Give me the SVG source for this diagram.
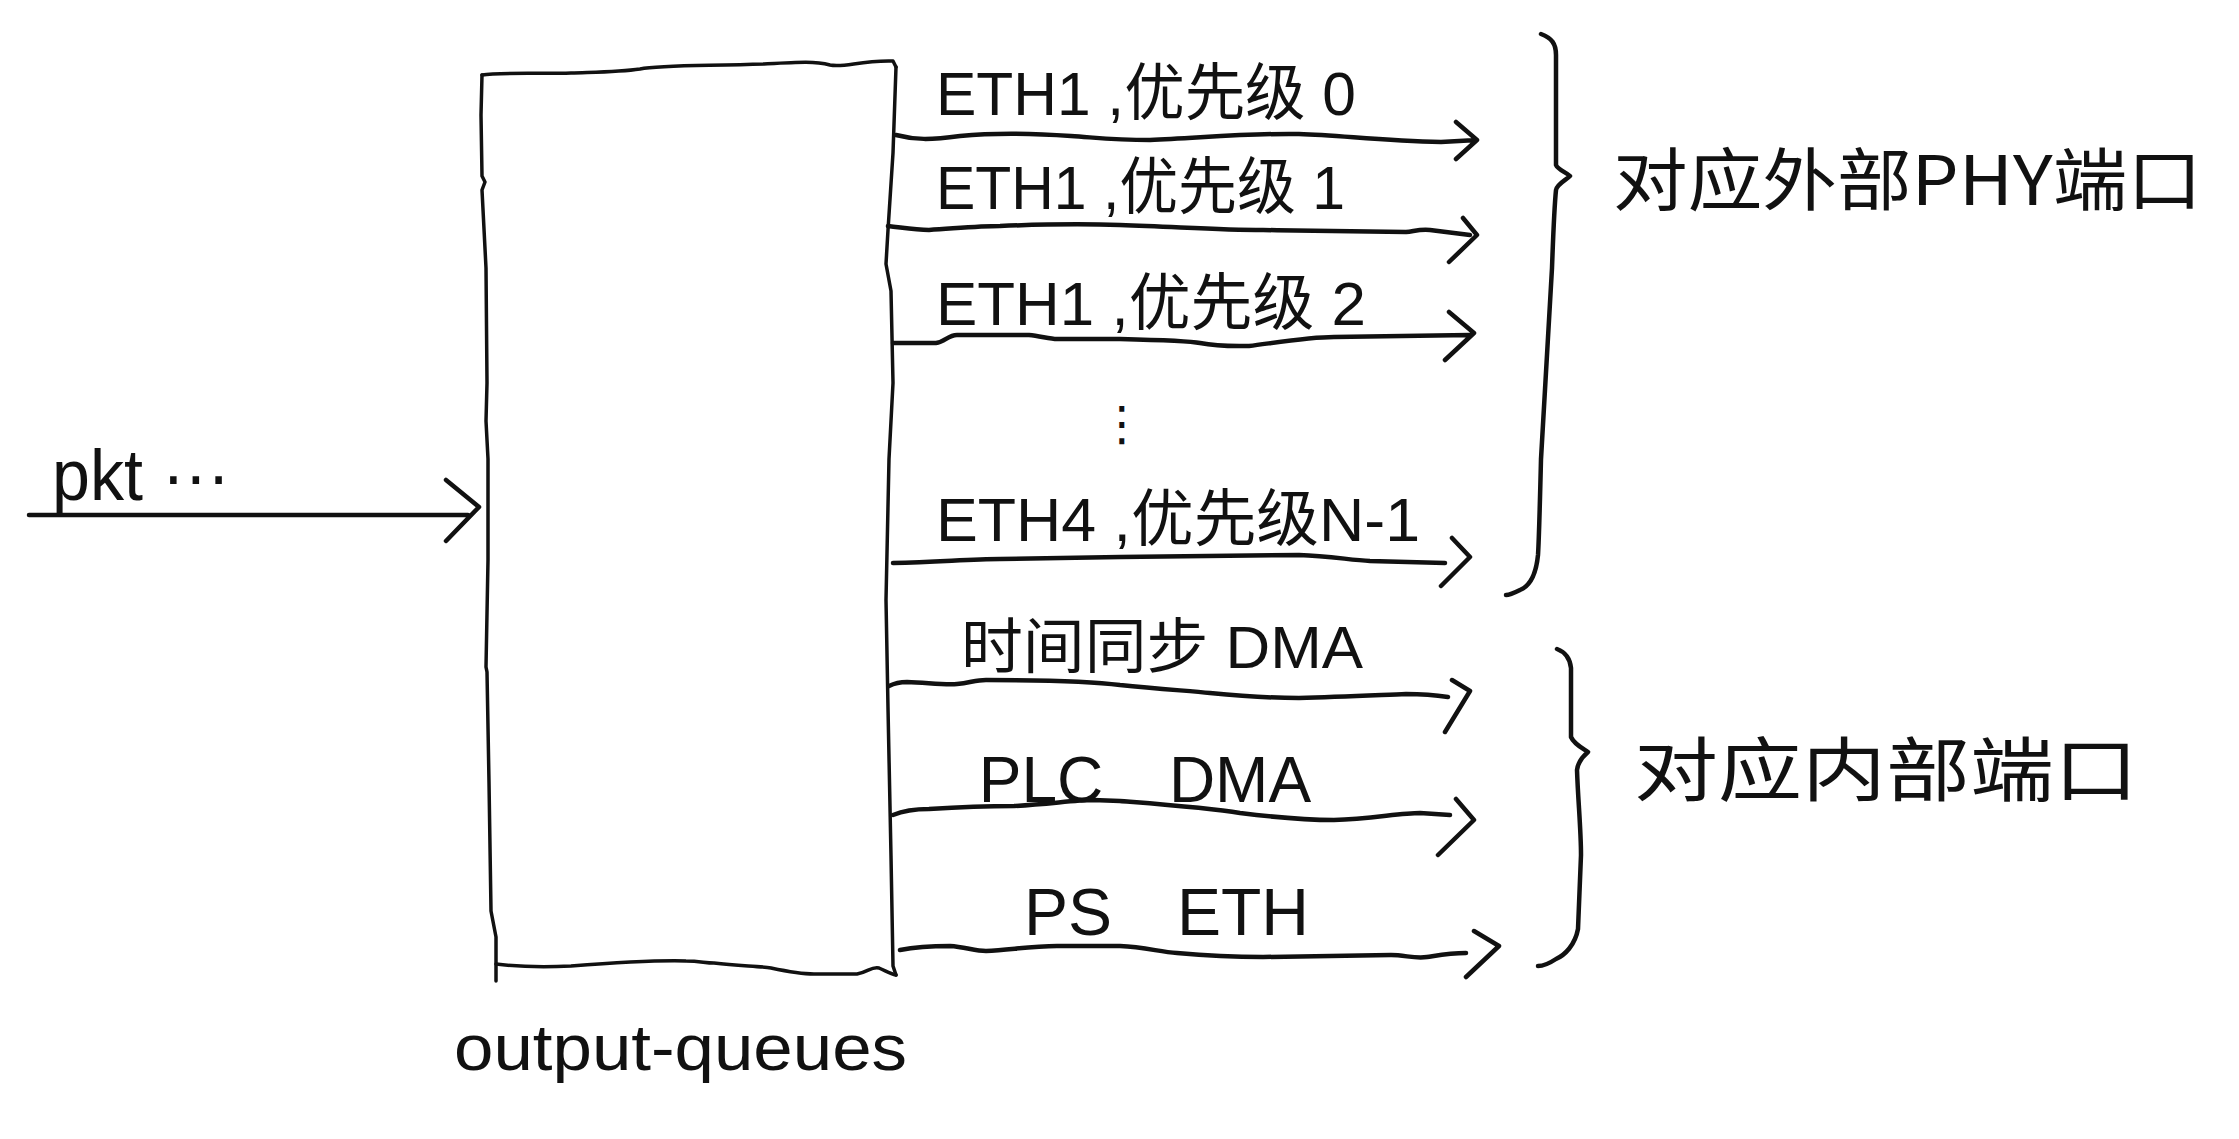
<svg xmlns="http://www.w3.org/2000/svg" width="2239" height="1139" viewBox="0 0 2239 1139">
<style>
  .ln{fill:none;stroke:#111;stroke-width:4.5;stroke-linecap:round;stroke-linejoin:round}
  .edge{fill:none;stroke:#111;stroke-width:3.5;stroke-linecap:round;stroke-linejoin:round}
  .t{font-family:"Liberation Sans","Noto Sans CJK SC",sans-serif;fill:#111}
  .cjk{font-family:"Noto Sans CJK SC","Liberation Sans",sans-serif;fill:#111}
</style>
<rect width="2239" height="1139" fill="#fff"/>

<g id="output-queues">
  <path class="edge" d="M482,75 C500,72 540,74 571,73 C600,72 620,72 640,69 C660,65 700,66 764,64 C800,62 815,61 830,65 C845,68 860,60 893,61 L896,67"/>
  <path class="edge" d="M482,75 L481,115 L482,176 L485,182 L482,190 L486,268 L487,383 L486,421 L488,459 L488,560 L486,667 L487,672 L489,782 L491,911 L496,937 L496,981"/>
  <path class="edge" d="M896,67 L893,153 L888,230 L886,264 L891,291 L893,383 L889,459 L886,600 L888,708 L891,856 L893,966 L896,975"/>
  <path class="edge" d="M496,964 C520,967 550,967 571,966 C610,963 650,960 686,961 C700,961 705,963 714,963 C740,966 760,966 771,968 C790,972 800,974 814,974 L857,974 C868,972 872,966 879,968 C886,971 890,974 896,975"/>
  <text class="t" x="454" y="1070" font-size="64" textLength="453" lengthAdjust="spacingAndGlyphs">output-queues</text>
</g>

<g id="input">
  <text class="t" x="52" y="500" font-size="72" textLength="178" lengthAdjust="spacingAndGlyphs">pkt ···</text>
</g>

<g id="labels-external">
  <text id="lbl-eth1-p0" class="t" x="936" y="115" font-size="62" textLength="420" lengthAdjust="spacingAndGlyphs">ETH1 ,优先级 0</text>
  <text id="lbl-eth1-p1" class="t" x="936" y="209" font-size="62" textLength="409" lengthAdjust="spacingAndGlyphs">ETH1 ,优先级 1</text>
  <text id="lbl-eth1-p2" class="t" x="936" y="325" font-size="62" textLength="430" lengthAdjust="spacingAndGlyphs">ETH1 ,优先级 2</text>
  <text id="lbl-dots" x="1122" y="440" font-size="48" text-anchor="middle" font-family="DejaVu Sans,sans-serif" fill="#111">⋮</text>
  <text id="lbl-eth4" class="t" x="936" y="541" font-size="62" textLength="484" lengthAdjust="spacingAndGlyphs">ETH4 ,优先级N-1</text>
</g>

<g id="labels-internal">
  <text id="lbl-sync" class="t" x="961" y="668" font-size="60" textLength="402" lengthAdjust="spacingAndGlyphs">时间同步 DMA</text>
  <text id="lbl-plc" class="t" font-size="64" text-anchor="middle"><tspan x="1041" y="802">PLC</tspan><tspan x="1240" y="802">DMA</tspan></text>
  <text id="lbl-ps" class="t" font-size="66" text-anchor="middle"><tspan x="1068" y="935">PS</tspan><tspan x="1243" y="935">ETH</tspan></text>
</g>

<g id="connectors">
  <path class="ln" d="M29,515 L468,515 M446,480 L479,507 L446,541"/>
  <path class="ln" d="M896,135 C915,140 930,140 960,136 C990,133 1030,133 1071,136 C1100,138 1115,140 1150,140 C1200,138 1250,133 1299,134 C1340,135 1380,141 1441,142 L1477,140 M1456,122 L1477,140 L1456,159"/>
  <path class="ln" d="M888,226 C905,228 915,230 929,230 C960,228 980,226 1000,226 C1050,224 1090,224 1120,225 C1180,227 1220,230 1263,230 C1320,231 1380,232 1406,232 C1415,231 1420,229 1430,230 L1470,235 M1463,218 L1477,235 L1449,262"/>
  <path class="ln" d="M893,343 L936,343 C945,342 948,335 957,335 L1029,335 C1040,336 1050,339 1057,339 L1120,339 C1160,340 1190,341 1200,343 C1220,347 1240,346 1249,346 C1280,342 1310,337 1334,337 L1470,335 M1449,312 L1474,333 L1445,360"/>
  <path class="ln" d="M893,563 C940,562 970,559 1000,559 C1060,558 1100,557 1120,557 L1299,555 C1330,556 1350,560 1370,561 L1445,563 M1452,538 L1470,557 L1441,586"/>
  <path class="ln" d="M889,686 C895,683 900,682 907,682 C930,683 945,685 957,684 C970,683 975,680 986,680 C1040,680 1090,681 1120,685 C1160,689 1190,691 1210,693 C1250,697 1280,698 1299,698 C1340,697 1380,695 1406,694 C1425,694 1435,695 1448,697 M1452,680 L1470,691 L1445,732"/>
  <path class="ln" d="M893,815 C905,810 915,809 929,809 C960,807 990,806 1014,806 C1050,804 1075,800 1093,800 L1120,801 C1170,805 1210,808 1240,813 C1280,818 1310,820 1334,820 C1370,819 1400,813 1420,813 L1450,815 M1456,799 L1474,820 L1438,855"/>
  <path class="ln" d="M900,950 C920,946 935,946 950,946 C965,947 975,951 986,951 C1010,950 1030,946 1057,946 L1120,946 C1145,947 1160,952 1177,953 C1210,956 1240,957 1263,957 L1391,955 C1405,955 1415,959 1427,957 C1440,955 1450,953 1466,953 M1474,931 L1499,946 L1466,977"/>
</g>

<g id="brace-external">
  <path class="ln" d="M1541,34 C1552,38 1556,44 1556,55 L1556,165 C1558,170 1566,172 1570,176 C1566,180 1557,184 1556,190 C1555,200 1553,240 1552,268 L1541,459 C1540,500 1539,540 1538,555 C1536,575 1530,586 1520,590 C1514,593 1510,595 1506,595"/>
  <text class="cjk" x="1613" y="205" font-size="68" textLength="589" lengthAdjust="spacingAndGlyphs">对应外部PHY端口</text>
</g>

<g id="brace-internal">
  <path class="ln" d="M1557,649 C1565,652 1570,658 1571,668 L1571,737 C1574,744 1582,748 1588,752 C1582,757 1578,762 1577,770 C1578,800 1581,830 1581,855 L1578,929 C1575,945 1565,955 1556,959 C1550,963 1544,966 1538,966"/>
  <text class="cjk" x="1634" y="796" font-size="70" textLength="504" lengthAdjust="spacingAndGlyphs">对应内部端口</text>
</g>
</svg>
